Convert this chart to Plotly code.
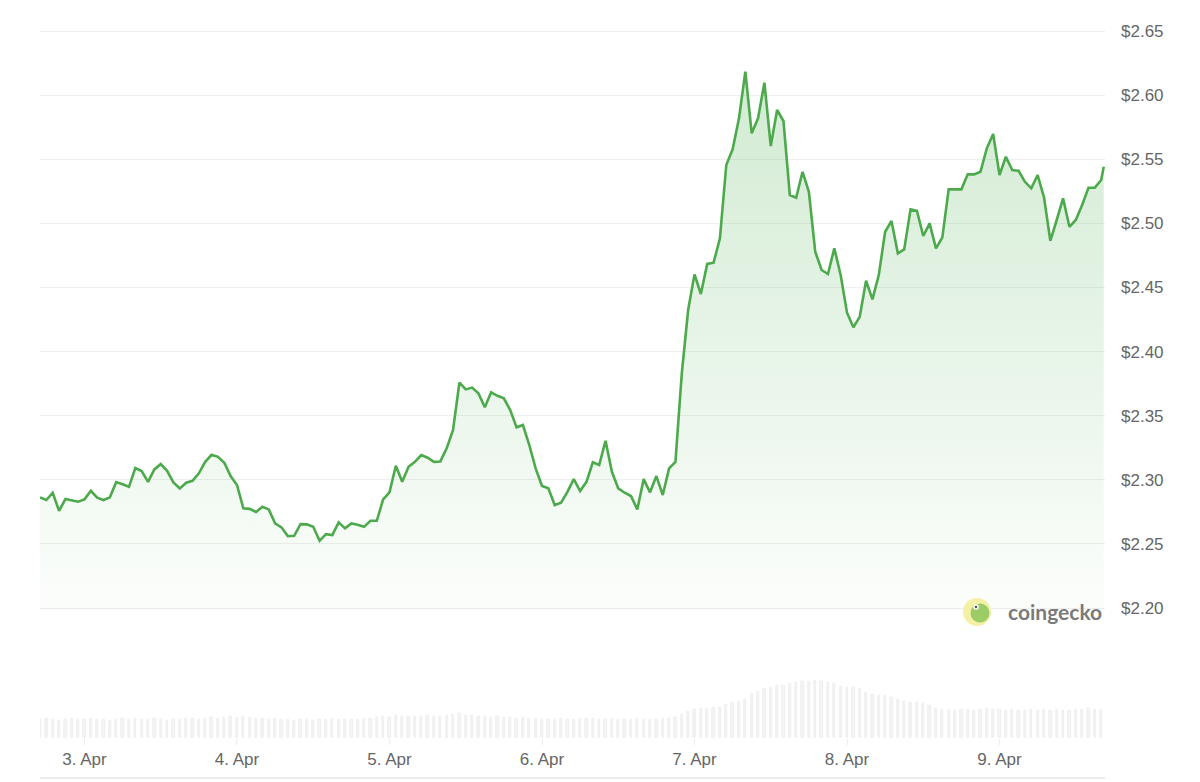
import pandas as pd
import plotly.graph_objects as go

# ---- data ----
start_time = "2025-04-02 17:00"
last_time = "2025-04-09 16:24"

prices = [
    2.2863, 2.2842, 2.2899, 2.2758, 2.2850, 2.2842, 2.2829, 2.2847, 2.2914, 2.2860,
    2.2842, 2.2863, 2.2982, 2.2965, 2.2945, 2.3091, 2.3068, 2.2984, 2.3081, 2.3122,
    2.3070, 2.2980, 2.2933, 2.2977, 2.2992, 2.3050, 2.3140, 2.3195, 2.3179, 2.3133,
    2.3029, 2.2959, 2.2777, 2.2773, 2.2749, 2.2789, 2.2769, 2.2660, 2.2629, 2.2561,
    2.2563, 2.2654, 2.2652, 2.2633, 2.2524, 2.2576, 2.2569, 2.2668, 2.2621, 2.2660,
    2.2650, 2.2633, 2.2680, 2.2680, 2.2847, 2.2902, 2.3109, 2.2984, 2.3101, 2.3140,
    2.3193, 2.3172, 2.3140, 2.3143, 2.3245, 2.3388, 2.3757, 2.3705, 2.3719, 2.3674,
    2.3565, 2.3682, 2.3655, 2.3635, 2.3544, 2.3409, 2.3427, 2.3271, 2.3089, 2.2951,
    2.2933, 2.2803, 2.2821, 2.2906, 2.3005, 2.2912, 2.2984, 2.3136, 2.3115, 2.3304,
    2.3062, 2.2933, 2.2899, 2.2873, 2.2769, 2.3005, 2.2902, 2.3029, 2.2881, 2.3089,
    2.3140, 2.3830, 2.4324, 2.4602, 2.4449, 2.4683, 2.4693, 2.4883, 2.5455, 2.5577,
    2.5819, 2.6183, 2.5702, 2.5819, 2.6097, 2.5603, 2.5884, 2.5798, 2.5221, 2.5200,
    2.5402, 2.5246, 2.4778, 2.4636, 2.4605, 2.4805, 2.4597, 2.4303, 2.4189, 2.4271,
    2.4552, 2.4407, 2.4597, 2.4934, 2.5018, 2.4766, 2.4797, 2.5109, 2.5098, 2.4901,
    2.5000, 2.4805, 2.4891, 2.5265, 2.5265, 2.5265, 2.5382, 2.5382, 2.5402, 2.5585,
    2.5697, 2.5377, 2.5519, 2.5416, 2.5410, 2.5324, 2.5273, 2.5377, 2.5203, 2.4864,
    2.5026, 2.5195, 2.4973, 2.5026, 2.5143, 2.5278, 2.5278, 2.5338,
    2.5441,
]

# hourly volume (relative units)
volumes = [
    18, 19, 18, 17, 18, 19, 18, 18, 19, 18,
    18, 17, 18, 19, 18, 19, 18, 18, 19, 18,
    17, 18, 18, 19, 19, 18, 19, 20, 19, 20,
    21, 20, 21, 20, 19, 19, 18, 19, 18, 18,
    17, 18, 18, 17, 18, 18, 19, 18, 18, 18,
    18, 19, 19, 20, 21, 20, 22, 21, 21, 21,
    21, 22, 21, 21, 22, 23, 24, 22, 22, 21,
    21, 20, 21, 20, 20, 19, 20, 19, 19, 18,
    18, 18, 19, 18, 18, 19, 19, 19, 18, 18,
    19, 18, 18, 18, 19, 18, 18, 18, 19, 19,
    20, 23, 26, 28, 29, 29, 30, 30, 33, 35,
    36, 38, 44, 46, 49, 50, 52, 52, 54, 55,
    56, 56, 57, 56, 55, 54, 51, 50, 50, 49,
    45, 43, 42, 42, 40, 38, 36, 35, 35, 34,
    32, 29, 28, 28, 27, 28, 28, 27, 28, 29,
    28, 28, 27, 28, 27, 27, 28, 27, 28, 27,
    28, 27, 27, 28, 28, 29, 28, 28,
]

day_ticks = ["2025-04-03", "2025-04-04", "2025-04-05", "2025-04-06",
             "2025-04-07", "2025-04-08", "2025-04-09"]
day_labels = ["3. Apr", "4. Apr", "5. Apr", "6. Apr", "7. Apr", "8. Apr", "9. Apr"]

price_ticks = [2.20, 2.25, 2.30, 2.35, 2.40, 2.45, 2.50, 2.55, 2.60, 2.65]
price_labels = ["$%.2f" % v for v in price_ticks]

# ---- layout geometry (screen pixels; page body adds an 8px offset) ----
W, H = 1200, 782
M_L, M_R, M_T, M_B = 32, 103, 4, 52
OFF = 8
PLOT_H = H - M_T - M_B


def py(screen_y):
    """screen pixel y -> paper fraction"""
    return (H - M_B - (screen_y - OFF)) / PLOT_H


def px(screen_x):
    return (screen_x - OFF - M_L) / (W - M_L - M_R)


Y_LO, Y_HI = 2.198, 2.652
dom_lo = py(610.56)   # where Y_LO sits
dom_hi = py(28.44)    # where Y_HI sits

# ---- figure ----
hourly = list(pd.date_range(start_time, periods=len(volumes), freq="h"))
times = hourly + [pd.Timestamp(last_time)]

fig = go.Figure()

fig.add_trace(go.Bar(
    x=hourly, y=volumes, yaxis="y2", xaxis="x",
    width=0.36 * 3600 * 1000,
    marker=dict(color="#f4f4f4", line=dict(color="#e9e9e9", width=0.6)),
    hoverinfo="skip", showlegend=False,
))

fig.add_trace(go.Scatter(
    x=times, y=prices, mode="lines",
    line=dict(color="#4caa4c", width=2.6),
    fill="tozeroy",
    fillgradient=dict(type="vertical",
                      colorscale=[[0, "rgba(76,175,80,0.02)"], [1, "rgba(76,175,80,0.27)"]],
                      start=2.20, stop=2.65),
    showlegend=False,
))

font_family = "Liberation Sans, Arial, sans-serif"

fig.update_layout(
    width=W, height=H,
    margin=dict(l=M_L, r=M_R, t=M_T, b=M_B, autoexpand=False),
    paper_bgcolor="white", plot_bgcolor="white",
    bargap=0,
    xaxis=dict(
        type="date",
        range=[pd.Timestamp(start_time), pd.Timestamp("2025-04-09 16:36")],
        tickvals=day_ticks, ticktext=day_labels,
        ticks="outside", ticklen=6, tickcolor="#ececec",
        showgrid=False, zeroline=False, showline=False,
        tickfont=dict(family=font_family, size=17, color="#666666"),
        anchor="y2",
    ),
    yaxis=dict(
        domain=[dom_lo, dom_hi],
        range=[Y_LO, Y_HI],
        tickvals=price_ticks, ticktext=price_labels,
        side="right", anchor="x",
        showgrid=True, gridcolor="#efefef", gridwidth=1,
        zeroline=False, showline=False, ticks="",
        ticklabelstandoff=15,
        tickfont=dict(family=font_family, size=17, color="#666666"),
    ),
    yaxis2=dict(
        domain=[0, dom_lo], range=[0, dom_lo * PLOT_H], visible=False, anchor="x",
    ),
)

# bottom border line
fig.add_shape(type="line", xref="paper", yref="paper", x0=0, x1=1,
              y0=py(778), y1=py(778), line=dict(color="#e6e6e6", width=1.5))

# coingecko watermark
cx, cy = px(977), py(612)
rx, ry = 14 / (W - M_L - M_R), 14 / PLOT_H
fig.add_shape(type="circle", xref="paper", yref="paper",
              x0=cx - rx, x1=cx + rx, y0=cy - ry, y1=cy + ry,
              fillcolor="#f4f1a6", line=dict(width=0))
gx, gy = px(980), py(613)
grx, gry = 9.5 / (W - M_L - M_R), 9.5 / PLOT_H
fig.add_shape(type="circle", xref="paper", yref="paper",
              x0=gx - grx, x1=gx + grx, y0=gy - gry, y1=gy + gry,
              fillcolor="#9ccc65", line=dict(width=0))
ex, ey = px(976), py(607)
for r, c in ((2.8, "white"), (1.3, "#555555")):
    erx, ery = r / (W - M_L - M_R), r / PLOT_H
    fig.add_shape(type="circle", xref="paper", yref="paper",
                  x0=ex - erx, x1=ex + erx, y0=ey - ery, y1=ey + ery,
                  fillcolor=c, line=dict(width=0))
fig.add_annotation(xref="paper", yref="paper", x=px(1104), y=py(611),
                   xanchor="right", yanchor="middle", showarrow=False,
                   text="<b>coingecko</b>",
                   font=dict(family="Lato, Open Sans, sans-serif", size=21, color="#7a7a7a"))

fig.write_html("out.html")
